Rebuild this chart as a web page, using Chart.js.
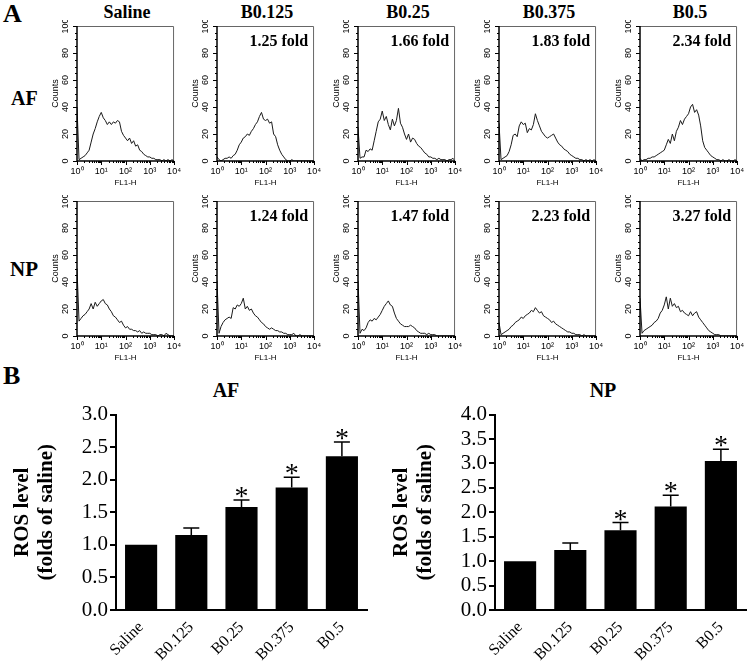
<!DOCTYPE html>
<html>
<head>
<meta charset="utf-8">
<script src="https://cdn.jsdelivr.net/npm/chart.js@4.4.0/dist/chart.umd.min.js"></script>
<style>
  body { margin: 0; background: #fff; width: 750px; height: 662px; position: relative; overflow: hidden; font-family: "Liberation Serif", "Times New Roman", serif; }
  canvas { position: absolute; }
  .lbl { position: absolute; font-weight: bold; color: #000; white-space: nowrap; line-height: 1; }
  .c { transform: translateX(-50%); }
</style>
</head>
<body>
<div class="lbl" style="left:3px;top:1px;font-size:26px;">A</div>
<div class="lbl" style="left:3px;top:363px;font-size:26px;">B</div>
<div class="lbl" style="left:11px;top:88px;font-size:20px;">AF</div>
<div class="lbl" style="left:10px;top:259px;font-size:21px;">NP</div>
<div class="lbl c" style="left:226px;top:380px;font-size:20px;">AF</div>
<div class="lbl c" style="left:603px;top:380px;font-size:20px;">NP</div>

<script>
// ---- данные ----
const groups = ['Saline', 'B0.125', 'B0.25', 'B0.375', 'B0.5'];
const foldAF = [null, 1.25, 1.66, 1.83, 2.34];
const foldNP = [null, 1.24, 1.47, 2.23, 3.27];

// гистограммы FL1-H: 12 каналов на декаду, 0..10^4
const channelsPerDecade = 12;
const afSaline = [40,1,2,3,4,6,8,14,20,24, 29,33,36,32,30,27,29,27,29,28, 30,29,22,19,17,15,17,13,15,11, 12,8,7,5,4,3,3,2,2,1, 1,1,0,1,0,1,0,1,0];
const afB0125  = [3,1,0,1,2,2,3,2,4,5, 8,12,14,17,18,20,19,22,24,27, 29,33,36,31,30,31,28,29,20,18, 12,8,5,3,1,0,0,1,0,0, 0,0,0,0,0,0,0,0,0];
const afB025   = [25,2,3,3,8,7,9,8,15,22, 29,31,37,30,33,27,23,31,26,30, 39,28,25,20,16,20,14,17,16,13, 11,10,8,6,5,3,3,2,2,1, 2,1,1,1,0,1,1,2,0];
const afB0375  = [28,1,2,3,4,7,12,19,20,18, 26,29,27,28,21,24,23,27,35,30, 26,22,20,18,17,18,19,20,17,14, 12,11,9,8,7,5,4,3,2,2, 1,1,0,1,0,1,0,1,0];
const afB05    = [2,0,1,1,2,2,3,3,4,5, 6,7,8,12,16,13,20,15,22,25, 30,27,31,33,35,40,42,36,38,34, 26,15,10,8,6,4,3,2,1,1, 0,1,0,0,1,0,0,1,0];
const npSaline = [50,11,13,15,16,18,20,24,20,25, 22,24,26,27,24,23,20,18,15,14, 12,10,11,8,6,7,5,5,4,4, 3,4,2,3,2,2,2,1,1,1, 0,1,1,0,2,1,0,0,0];
const npB0125  = [41,2,7,10,12,13,14,13,21,20, 23,22,24,28,20,22,19,20,17,15, 14,12,10,9,7,6,5,6,5,4, 4,3,3,2,2,1,1,1,2,0, 0,1,0,0,0,0,0,0,0];
const npB025   = [41,2,5,4,6,10,12,11,13,12, 14,16,19,22,24,26,23,22,17,13, 11,9,8,7,7,7,8,7,6,4, 3,2,2,2,1,2,1,1,1,0, 0,0,0,0,0,0,0,0,0];
const npB0375  = [10,1,2,3,4,5,7,8,10,11, 12,14,13,15,16,17,19,18,21,19, 17,18,15,14,13,12,10,11,9,8, 7,6,5,4,3,3,2,2,1,1, 1,0,1,0,0,0,0,0,0];
const npB05    = [28,2,4,5,6,7,8,10,11,13, 17,19,23,29,20,28,22,24,21,22, 18,19,17,16,15,18,15,17,18,14, 12,10,8,6,4,3,2,1,1,1, 0,0,0,0,0,0,0,0,0];

const histAF = [afSaline, afB0125, afB025, afB0375, afB05];
const histNP = [npSaline, npB0125, npB025, npB0375, npB05];

// столбики ROS (кратно saline) и ошибки
const rosAF = [1.0, 1.15, 1.58, 1.88, 2.36];
const errAF = [0, 0.11, 0.11, 0.16, 0.22];
const sigAF = [false, false, true, true, true];
const rosNP = [1.0, 1.23, 1.63, 2.12, 3.05];
const errNP = [0, 0.14, 0.16, 0.23, 0.24];
const sigNP = [false, false, true, true, true];

const sup = ['\u2070', '\u00B9', '\u00B2', '\u00B3', '\u2074'];

// ---- раскладка ----
const panelLeft = [77, 217, 358, 499, 640];
const rowTop = [26, 201];

Chart.defaults.font.family = '"Liberation Serif", "Times New Roman", serif';
Chart.defaults.color = '#000';

function addCanvas(left, top, w, h) {
    const cv = document.createElement('canvas');
    cv.width = w; cv.height = h;
    cv.style.left = left + 'px';
    cv.style.top = top + 'px';
    document.body.appendChild(cv);
    return cv;
}

function addLabel(text, cx, top, size) {
    const d = document.createElement('div');
    d.className = 'lbl c';
    d.style.left = cx + 'px';
    d.style.top = top + 'px';
    d.style.fontSize = size + 'px';
    d.textContent = text;
    document.body.appendChild(d);
}

// рамка, мелкие засечки, повернутые подписи оси Y и "fold"
const histFrame = {
    id: 'histFrame',
    afterDatasetsDraw(chart, args, opts) {
        const { ctx, chartArea: a, scales: { x, y } } = chart;
        ctx.save();
        ctx.strokeStyle = '#666';
        ctx.lineWidth = 1;
        ctx.beginPath();
        ctx.moveTo(a.left, a.top + 0.5);
        ctx.lineTo(a.right - 0.5, a.top + 0.5);
        ctx.lineTo(a.right - 0.5, a.bottom);
        ctx.stroke();

        ctx.strokeStyle = '#000';
        ctx.lineWidth = 1.5;
        ctx.beginPath();
        ctx.moveTo(a.left, a.top);
        ctx.lineTo(a.left, a.bottom);
        ctx.lineTo(a.right, a.bottom);
        ctx.stroke();

        ctx.lineWidth = 1;
        ctx.beginPath();
        for (let v = 0; v <= 100; v += 5) {
            const py = Math.round(y.getPixelForValue(v)) + 0.5;
            ctx.moveTo(a.left, py);
            ctx.lineTo(a.left - (v % 20 === 0 ? 4 : 2), py);
        }
        for (let d = 0; d <= 4; d++) {
            for (let m = 1; m <= 9; m++) {
                if (d === 4 && m > 1) break;
                const px = Math.round(x.getPixelForValue(d + Math.log10(m))) + 0.5;
                ctx.moveTo(px, a.bottom);
                ctx.lineTo(px, a.bottom + (m === 1 ? 4 : 2));
            }
        }
        ctx.stroke();

        ctx.fillStyle = '#000';
        ctx.font = '9px "Liberation Sans", Arial, sans-serif';
        ctx.textAlign = 'center';
        ctx.textBaseline = 'middle';
        y.ticks.forEach(t => {
            ctx.save();
            ctx.translate(a.left - 11, y.getPixelForValue(t.value));
            ctx.rotate(-Math.PI / 2);
            ctx.fillText(String(t.value), 0, 0);
            ctx.restore();
        });

        if (opts.fold) {
            ctx.font = 'bold 16px "Liberation Serif", serif';
            ctx.textAlign = 'right';
            ctx.textBaseline = 'alphabetic';
            ctx.fillText(opts.fold.toFixed(2) + ' fold', a.right - 6, a.top + 20);
        }
        ctx.restore();
    }
};

function histChart(left, top, values, fold) {
    const cv = addCanvas(left - 27, top - 6, 136, 168);
    new Chart(cv, {
        type: 'line',
        data: {
            datasets: [{
                data: values.map((v, i) => ({ x: i / channelsPerDecade, y: v })),
                borderColor: '#1a1a1a',
                borderWidth: 1,
                pointRadius: 0,
                tension: 0,
                fill: false
            }]
        },
        options: {
            responsive: false,
            animation: false,
            events: [],
            layout: { padding: { top: 6, right: 8, left: 0, bottom: 0 } },
            plugins: { legend: { display: false }, tooltip: { enabled: false }, histFrame: { fold: fold } },
            scales: {
                x: {
                    type: 'linear', min: 0, max: 4,
                    afterFit: s => { s.height = 27; },
                    grid: { display: false, drawTicks: false },
                    border: { display: false },
                    ticks: {
                        stepSize: 1, padding: 5, maxRotation: 0, autoSkip: false,
                        font: { family: '"Liberation Sans", Arial, sans-serif', size: 9 },
                        callback: v => '10' + sup[v]
                    },
                    title: { display: true, text: 'FL1-H', padding: { top: 0, bottom: 0 }, font: { family: '"Liberation Sans", Arial, sans-serif', size: 8 } }
                },
                y: {
                    min: 0, max: 100,
                    afterFit: s => { s.width = 27; },
                    grid: { display: false, drawTicks: false },
                    border: { display: false },
                    ticks: { display: false, stepSize: 20 },
                    title: { display: true, text: 'Counts', padding: 0, font: { family: '"Liberation Sans", Arial, sans-serif', size: 9 } }
                }
            }
        },
        plugins: [histFrame]
    });
}

// планки ошибок и звездочки
const errorBars = {
    id: 'errorBars',
    afterDatasetsDraw(chart, args, opts) {
        const { ctx, scales: { y } } = chart;
        const vals = chart.data.datasets[0].data;
        ctx.save();
        ctx.strokeStyle = '#000';
        ctx.fillStyle = '#000';
        ctx.lineWidth = 1.5;
        chart.getDatasetMeta(0).data.forEach((bar, i) => {
            const top = y.getPixelForValue(vals[i] + opts.errors[i]);
            if (opts.errors[i] > 0) {
                ctx.beginPath();
                ctx.moveTo(bar.x, y.getPixelForValue(vals[i]));
                ctx.lineTo(bar.x, top);
                ctx.moveTo(bar.x - 8, top);
                ctx.lineTo(bar.x + 8, top);
                ctx.stroke();
            }
            if (opts.sig[i]) {
                ctx.font = '28px "Liberation Serif", serif';
                ctx.textAlign = 'center';
                ctx.textBaseline = 'alphabetic';
                ctx.fillText('*', bar.x, top + 5);
            }
        });
        ctx.restore();
    }
};

function rosChart(plotLeft, values, errors, sig, yMax) {
    const cv = addCanvas(plotLeft - 111, 400, 366, 262);
    new Chart(cv, {
        type: 'bar',
        data: {
            labels: groups,
            datasets: [{ data: values, backgroundColor: '#000', barPercentage: 0.64, categoryPercentage: 1.0 }]
        },
        options: {
            responsive: false,
            animation: false,
            events: [],
            layout: { padding: { top: 10, right: 4, left: 0, bottom: 0 } },
            plugins: { legend: { display: false }, tooltip: { enabled: false }, errorBars: { errors: errors, sig: sig } },
            scales: {
                x: {
                    afterFit: s => { s.height = 52; },
                    grid: { display: false, drawTicks: false },
                    border: { color: '#000', width: 2 },
                    ticks: { minRotation: 45, maxRotation: 45, padding: 8, font: { size: 16 } }
                },
                y: {
                    min: 0, max: yMax,
                    afterFit: s => { s.width = 111; },
                    grid: { drawOnChartArea: false, drawTicks: true, tickLength: 6, color: '#000', lineWidth: 2 },
                    border: { color: '#000', width: 2 },
                    ticks: { stepSize: 0.5, autoSkip: false, padding: 2, font: { size: 21 }, callback: v => v.toFixed(1) },
                    title: {
                        display: true, text: ['ROS level', '(folds of saline)'],
                        padding: { top: 6, bottom: 0 },
                        font: { size: 21, weight: 'bold', lineHeight: 1.12 }
                    }
                }
            }
        },
        plugins: [errorBars]
    });
}

// ---- отрисовка ----
groups.forEach((g, i) => {
    addLabel(g, panelLeft[i] + 50, 3, 18);
    histChart(panelLeft[i], rowTop[0], histAF[i], foldAF[i]);
    histChart(panelLeft[i], rowTop[1], histNP[i], foldNP[i]);
});

rosChart(116, rosAF, errAF, sigAF, 3.0);
rosChart(495, rosNP, errNP, sigNP, 4.0);
</script>
</body>
</html>
